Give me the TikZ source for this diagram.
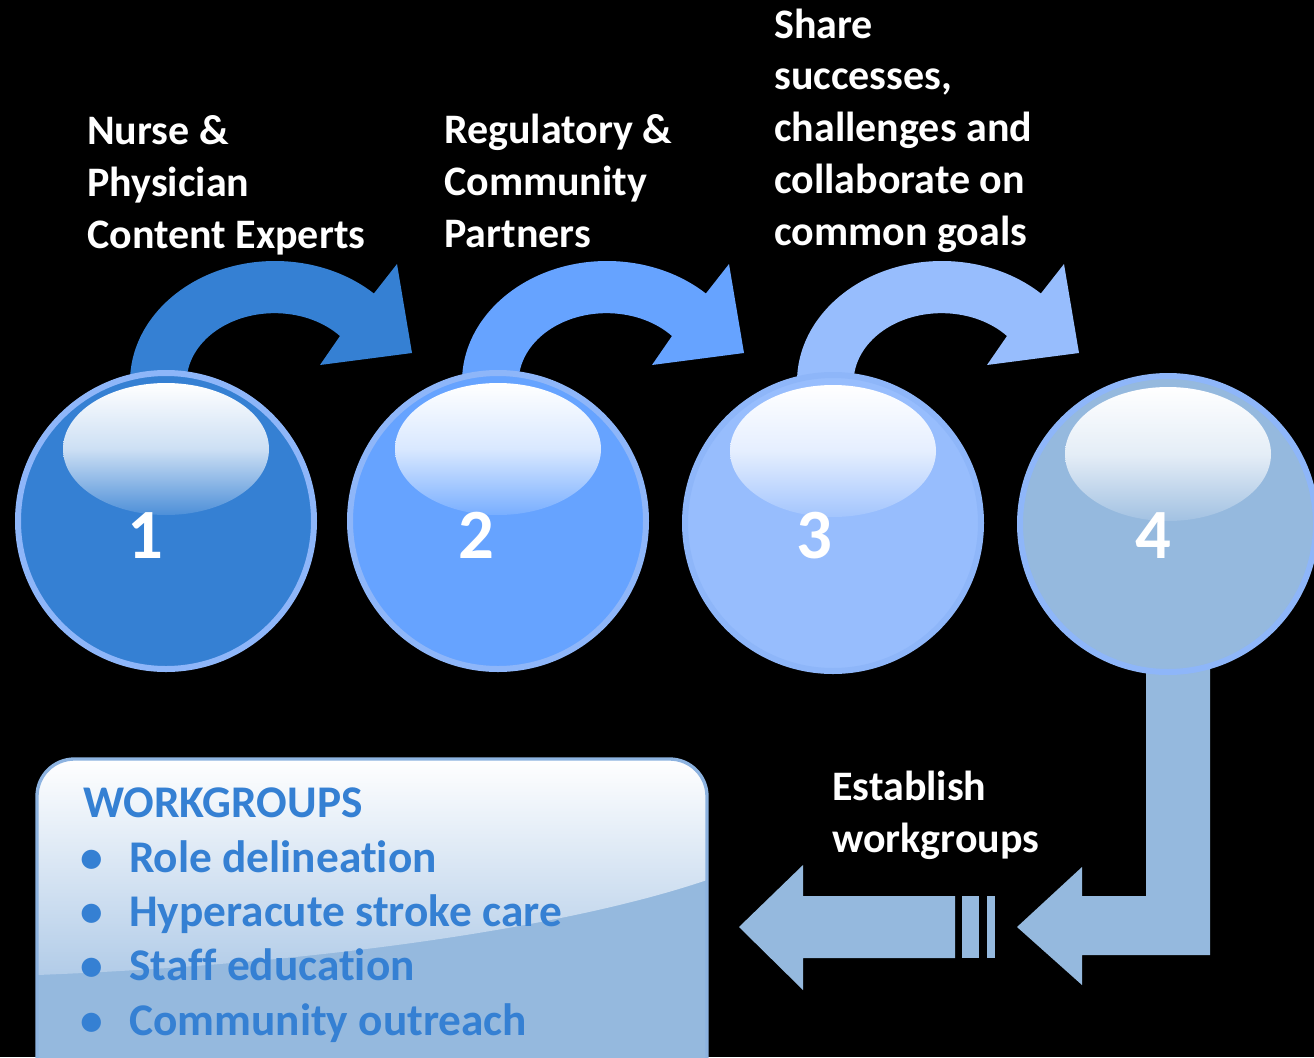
\documentclass[tikz,border=0pt]{standalone}
\usepackage{fontspec}
\setmainfont{Carlito}[Ligatures=NoCommon]
\usetikzlibrary{calc}
\definecolor{stepA}{HTML}{3580D3}
\definecolor{stepB}{HTML}{66A3FF}
\definecolor{stepC}{HTML}{97BDFD}
\definecolor{stepD}{HTML}{95B9DE}
\definecolor{ringblue}{HTML}{8EB6F9}
\definecolor{rimblue}{HTML}{8DB3E0}
\definecolor{glossblue}{HTML}{B2CCE8}
\def\bendarrow[#1](#2){\fill[#1, shift={(#2,0)}] (130,430) -- (130,382) arc[start angle=180, end angle=313, x radius=145, y radius=121] -- (397,264) -- (412,353) -- (320,365) -- (340,336) arc[start angle=318, end angle=180, x radius=88, y radius=69] -- (187,430) -- cycle;}
\def\wgitem{\makebox[34.5pt][l]{\hspace{-2pt}\textbullet}}
\tikzset{
	ball/.style={circle, draw=ringblue, line width=4.5pt, minimum size=222pt, inner sep=0pt, fill=#1},
	gloss/.style={top color=white, bottom color=#1!88!white, middle color=#1!25!white},
	digit/.style={anchor=base, text=white, inner sep=0pt, font=\bfseries\fontsize{53}{60}\selectfont},
	steptext/.style={anchor=base west, align=left, text=white, inner sep=0pt, font=\bfseries\fontsize{31.5}{38.8}\selectfont},
	listtext/.style={anchor=base west, align=left, text=stepA, inner sep=0pt, font=\bfseries\fontsize{34}{40.7}\selectfont},
}
\begin{document}
\begin{tikzpicture}[x=0.75pt, y=-0.75pt]
			%%%%% START %%%%%
			\fill[black] (0,0) rectangle (1314,1057);
			\useasboundingbox (0,0) rectangle (1314,1057);
			
			% bent arrows between the balls
			\bendarrow[stepA](0)
			\bendarrow[stepB](332)
			\bendarrow[stepC](667)
			
			% elbow arrow from ball 4
			\fill[stepD] (1146,650) -- (1146,896) -- (1082,896) -- (1082,867) -- (1017,927) -- (1082,985) -- (1082,955) -- (1210,955) -- (1210,650) -- cycle;
			\fill[stepD] (955,896) -- (803,896) -- (803,865) -- (739,927) -- (803,990) -- (803,958) -- (955,958) -- cycle;
			\fill[stepD] (962,896) rectangle (979,958);
			\fill[stepD] (987,896) rectangle (995,958);
			
			% balls
			\node[ball=stepA] (b1) at (166,521) {};
			\node[ball=stepB] (b2) at (498,521) {};
			\node[ball=stepC] (b3) at (833,523) {};
			\node[ball=stepD] (b4) at (1168,524) {};
			
			\shade[gloss=stepA] ($(b1)+(0,-72)$) ellipse [x radius=103, y radius=66];
			\shade[gloss=stepB] ($(b2)+(0,-72)$) ellipse [x radius=103, y radius=66];
			\shade[gloss=stepC] ($(b3)+(0,-72)$) ellipse [x radius=103, y radius=66];
			\shade[gloss=stepD] ($(b4)+(0,-70)$) ellipse [x radius=103, y radius=67];
			
			\node[digit] (d1) at ($(b1)+(-21,37)$) {1};
			\node[digit] (d2) at ($(b2)+(-22,37)$) {2};
			\node[digit] (d3) at ($(b3)+(-19,35)$) {3};
			\node[digit] (d4) at ($(b4)+(-15,34)$) {4};
			
			% step texts (anchored at the last baseline)
			\node[steptext] (t1) at (87,248) {Nurse \&\\Physician\\Content Experts};
			\node[steptext] (t2) at (444,247) {Regulatory \&\\Community\\Partners};
			\node[steptext] (t3) at (774,245) {Share\\successes,\\challenges and\\collaborate on\\common goals};
			\node[steptext] (t4) at (832,852) {Establish\\workgroups};
			
			% workgroups box
			\begin{scope}
				\clip[rounded corners=28pt] (37,759) rectangle (707,1110);
				\fill[stepD] (37,759) rectangle (707,1110);
				\shade[top color=white, bottom color=glossblue] (37,759) -- (707,759) -- (707,880) .. controls (560,930) and (300,965) .. (37,975) -- cycle;
			\end{scope}
			\draw[rimblue, line width=2.5pt, rounded corners=28pt] (37,759) rectangle (707,1110);
			
			\node[listtext] (wg) at (83,1035) {WORKGROUPS\\\wgitem Role delineation\\\wgitem Hyperacute stroke care\\\wgitem Staff education\\\wgitem Community outreach};
			%%%%% END %%%%%
\end{tikzpicture}
\end{document}
